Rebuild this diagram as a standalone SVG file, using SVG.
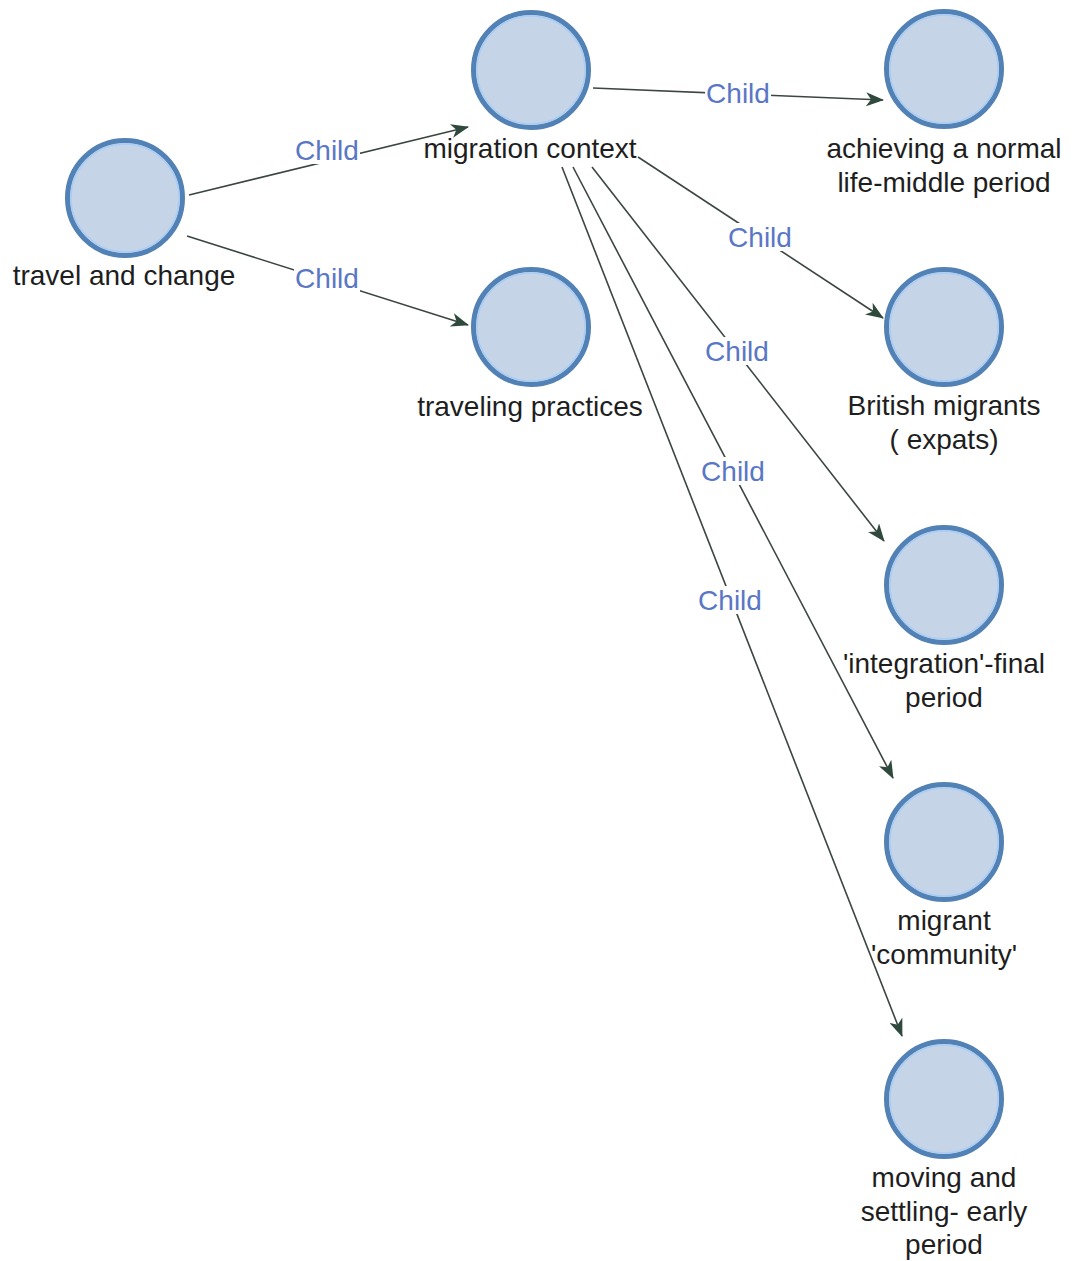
<svg xmlns="http://www.w3.org/2000/svg" width="1073" height="1261" viewBox="0 0 1073 1261">
<style>
.node circle.o{fill:#c5d4e7;stroke:#5281b5;stroke-width:5}
.node circle.i{fill:none;stroke:#a8cdf6;stroke-width:1.5}
.lbl{font-family:"Liberation Sans",Arial,sans-serif;font-size:28px;fill:#1e1e1e;text-anchor:middle}
.edge line{stroke:#3b4640;stroke-width:1.6;fill:none}
.el{font-family:"Liberation Sans",Arial,sans-serif;font-size:28px;fill:#5a77c6;text-anchor:middle}
.bg{fill:#ffffff}
</style>
<defs>
<marker id="arr" viewBox="0 0 18 14" refX="17" refY="7" markerWidth="18" markerHeight="14" markerUnits="userSpaceOnUse" orient="auto">
<path d="M0,0 L18,7 L0,14 L5,7 z" fill="#2f4a3c"/>
</marker>
</defs>
<rect width="1073" height="1261" fill="#ffffff"/>
<g id="connectors" class="edge">
<line x1="189" y1="195" x2="468" y2="127" marker-end="url(#arr)"/>
<line x1="187" y1="236" x2="468" y2="325" marker-end="url(#arr)"/>
<line x1="593" y1="88" x2="883" y2="100" marker-end="url(#arr)"/>
<line x1="638" y1="157" x2="883" y2="318" marker-end="url(#arr)"/>
<line x1="592" y1="167" x2="884" y2="541" marker-end="url(#arr)"/>
<line x1="573" y1="167" x2="893" y2="778" marker-end="url(#arr)"/>
<line x1="562" y1="167" x2="902" y2="1036" marker-end="url(#arr)"/>
<g id="edge-labels">
<rect class="bg" x="294" y="136" width="66" height="28"/><text class="el" x="327" y="160">Child</text>
<rect class="bg" x="294" y="264" width="66" height="28"/><text class="el" x="327" y="288">Child</text>
<rect class="bg" x="705" y="79" width="66" height="28"/><text class="el" x="738" y="103">Child</text>
<rect class="bg" x="727" y="223" width="66" height="28"/><text class="el" x="760" y="247">Child</text>
<rect class="bg" x="704" y="337" width="66" height="28"/><text class="el" x="737" y="361">Child</text>
<rect class="bg" x="700" y="457" width="66" height="28"/><text class="el" x="733" y="481">Child</text>
<rect class="bg" x="697" y="586" width="66" height="28"/><text class="el" x="730" y="610">Child</text>
</g>
</g>
<g id="n-travel" class="node"><circle class="o" cx="125" cy="198" r="57.5"/><circle class="i" cx="125" cy="198" r="54"/><text class="lbl" x="124" y="285">travel and change</text></g>
<g id="n-migration" class="node"><circle class="o" cx="531" cy="70" r="57.5"/><circle class="i" cx="531" cy="70" r="54"/><text class="lbl" x="530" y="158">migration context</text></g>
<g id="n-traveling" class="node"><circle class="o" cx="531" cy="327" r="57.5"/><circle class="i" cx="531" cy="327" r="54"/><text class="lbl" x="530" y="416">traveling practices</text></g>
<g id="n-achieving" class="node"><circle class="o" cx="944" cy="69" r="57.5"/><circle class="i" cx="944" cy="69" r="54"/><text class="lbl" x="944" y="158">achieving a normal</text><text class="lbl" x="944" y="192">life-middle period</text></g>
<g id="n-british" class="node"><circle class="o" cx="944" cy="327" r="57.5"/><circle class="i" cx="944" cy="327" r="54"/><text class="lbl" x="944" y="415">British migrants</text><text class="lbl" x="944" y="449">( expats)</text></g>
<g id="n-integration" class="node"><circle class="o" cx="944" cy="585" r="57.5"/><circle class="i" cx="944" cy="585" r="54"/><text class="lbl" x="944" y="673">'integration'-final</text><text class="lbl" x="944" y="707">period</text></g>
<g id="n-community" class="node"><circle class="o" cx="944" cy="842" r="57.5"/><circle class="i" cx="944" cy="842" r="54"/><text class="lbl" x="944" y="930">migrant</text><text class="lbl" x="944" y="964">'community'</text></g>
<g id="n-moving" class="node"><circle class="o" cx="944" cy="1099" r="57.5"/><circle class="i" cx="944" cy="1099" r="54"/><text class="lbl" x="944" y="1187">moving and</text><text class="lbl" x="944" y="1221">settling- early</text><text class="lbl" x="944" y="1254">period</text></g>
</svg>
